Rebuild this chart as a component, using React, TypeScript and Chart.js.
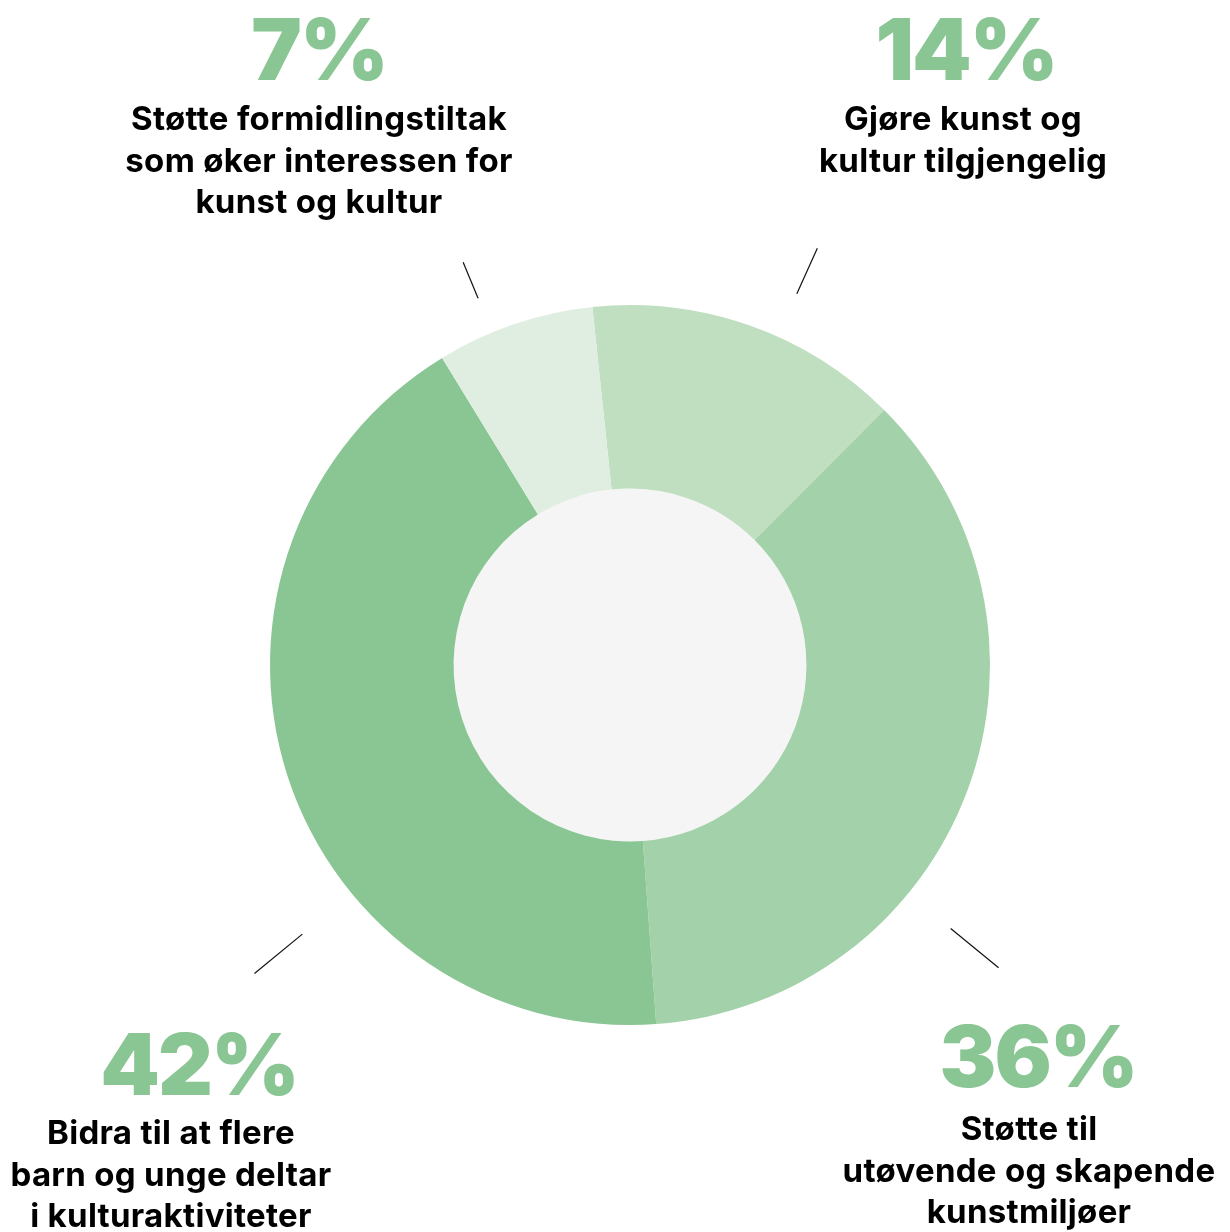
import React, { useEffect, useRef } from "react";
import { Chart, registerables } from "chart.js";

Chart.register(...registerables);

const categories = [
  "Gjøre kunst og kultur tilgjengelig",
  "Støtte til utøvende og skapende kunstmiljøer",
  "Bidra til at flere barn og unge deltar i kulturaktiviteter",
  "Støtte formidlingstiltak som øker interessen for kunst og kultur",
];
const values = [14, 36, 42, 7];
const sliceColors = ["#c0dfc1", "#a3d1a9", "#89c694", "#e0eee1"];
const labelLines = [
  ["Gjøre kunst og", "kultur tilgjengelig"],
  ["Støtte til", "utøvende og skapende", "kunstmiljøer"],
  ["Bidra til at flere", "barn og unge deltar", "i kulturaktiviteter"],
  ["Støtte formidlingstiltak", "som øker interessen for", "kunst og kultur"],
];

// layout of annotation blocks (page pixels)
const labelLayout = [
  { pctX: 967, pctY: 80, txtX: 963, txtY: 130 },
  { pctX: 1039, pctY: 1087, txtX: 1029, txtY: 1140 },
  { pctX: 200, pctY: 1095, txtX: 171, txtY: 1144 },
  { pctX: 320, pctY: 80, txtX: 319, txtY: 130 },
];
// leader ticks in polar form around chart centre: angle (deg from top, clockwise), r1, r2
const leaderTicks = [
  { a: 24.2, r1: 407, r2: 457 },
  { a: 129.4, r1: 415, r2: 477 },
  { a: 230.6, r1: 424, r2: 486 },
  { a: -22.5, r1: 397, r2: 436 },
];

const PCT_COLOR = "#89c694";

export default function App() {
  const ref = useRef<HTMLCanvasElement | null>(null);

  useEffect(() => {
    const canvas = ref.current;
    if (!canvas) return;

    const decorPlugin = {
      id: "decor",
      beforeDatasetsDraw(chart: any) {
        const meta = chart.getDatasetMeta(0);
        const arc = meta.data[0];
        if (!arc) return;
        const { x, y, innerRadius } = arc.getProps(["x", "y", "innerRadius"], true);
        const ctx = chart.ctx;
        ctx.save();
        ctx.beginPath();
        ctx.arc(x, y, innerRadius, 0, Math.PI * 2);
        ctx.fillStyle = "#f5f5f5";
        ctx.fill();
        ctx.restore();
      },
      afterDraw(chart: any) {
        const meta = chart.getDatasetMeta(0);
        const arc = meta.data[0];
        if (!arc) return;
        const { x: cx, y: cy } = arc.getProps(["x", "y"], true);
        const ctx = chart.ctx;
        ctx.save();
        // leader ticks
        ctx.strokeStyle = "#111111";
        ctx.lineWidth = 1.2;
        leaderTicks.forEach((t) => {
          const rad = (t.a * Math.PI) / 180;
          const sx = Math.sin(rad);
          const sy = -Math.cos(rad);
          ctx.beginPath();
          ctx.moveTo(cx + sx * t.r1, cy + sy * t.r1);
          ctx.lineTo(cx + sx * t.r2, cy + sy * t.r2);
          ctx.stroke();
        });
        // labels
        ctx.textAlign = "center";
        ctx.textBaseline = "alphabetic";
        values.forEach((v, i) => {
          const L = labelLayout[i];
          ctx.fillStyle = PCT_COLOR;
          ctx.font = "900 85px Inter, 'Open Sans', sans-serif";
          (ctx as any).letterSpacing = "-2px";
          ctx.fillText(`${v}%`, L.pctX - 1, L.pctY);
          (ctx as any).letterSpacing = "0.3px";
          ctx.fillStyle = "#000000";
          ctx.font = "700 33px Inter, 'Open Sans', sans-serif";
          labelLines[i].forEach((line, j) => {
            ctx.fillText(line, L.txtX, L.txtY + j * 41.5);
          });
        });
        ctx.restore();
      },
    };

    const chart = new Chart(canvas, {
      type: "doughnut",
      data: {
        labels: categories,
        datasets: [
          {
            data: values,
            backgroundColor: sliceColors,
            borderWidth: 0,
          },
        ],
      },
      options: {
        animation: false,
        responsive: false,
        maintainAspectRatio: false,
        rotation: -6,
        cutout: "49%",
        layout: { padding: { left: 270, right: 240, top: 305, bottom: 207 } },
        plugins: {
          legend: { display: false },
          tooltip: { enabled: false },
        },
      },
      plugins: [decorPlugin],
    });
    return () => chart.destroy();
  }, []);

  return (
    <div style={{ position: "absolute", left: 0, top: 0, width: 1230, height: 1232, background: "#ffffff" }}>
      <canvas ref={ref} width={1230} height={1232} style={{ width: 1230, height: 1232, display: "block" }} />
    </div>
  );
}
